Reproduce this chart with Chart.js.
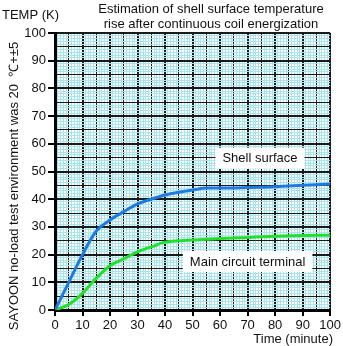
<!DOCTYPE html>
<html>
<head>
<meta charset="utf-8">
<script src="https://cdn.jsdelivr.net/npm/chart.js@4"></script>
<style>
  html, body { margin: 0; padding: 0; background: #fff; }
  #wrap { width: 343px; height: 346px; }
</style>
</head>
<body>
<div id="wrap"><canvas id="grafico"></canvas></div>
<script>
// Datos (minutos / K)
const tiempos = [0, 5, 10, 15, 20, 25, 30, 35, 40, 45, 50, 55, 60, 70, 80, 90, 100];
const superficie = [0, 10, 20, 28.5, 32.5, 35.5, 38.3, 40, 41.5, 42.5, 43.3, 44, 44, 44.2, 44.5, 45, 45.5];
const terminal = [0, 2, 6, 11.5, 16, 18.5, 21, 22.8, 24.5, 25, 25.3, 25.5, 25.8, 26.2, 26.6, 26.9, 27];

const titulo = ['Estimation of shell surface temperature', 'rise after continuous coil energization'];
const tituloY = 'SAYOON no-load test environment was 20  \u2103+\u00b15';
const tituloX = 'Time (minute)';
const unidadY = 'TEMP (K)';
const etiquetas = [
    { texto: 'Shell surface', x: 74.5, y: 55 },
    { texto: 'Main circuit terminal', x: 70, y: 17.7 }
];

const FUENTE = "'Liberation Sans', Arial, sans-serif";

function puntos(serie) {
    return tiempos.map((t, i) => ({ x: t, y: serie[i] }));
}

// Color de la cuadrícula según el valor
function colorLinea(ctx) {
    const v = Math.round(ctx.tick.value * 10) / 10;
    return v % 5 === 0 ? '#1a1a1a' : '#a8e4ec';
}
function anchoLinea(ctx) {
    const v = Math.round(ctx.tick.value * 10) / 10;
    return v % 10 === 0 ? 2 : 1;
}
function colorTick(ctx) {
    const v = Math.round(ctx.tick.value * 10) / 10;
    return v % 10 === 0 ? '#000' : 'rgba(0,0,0,0)';
}

// Textos y cajas
const textos = {
    id: 'textos',
    afterDatasetsDraw(chart) {
        const c = chart.ctx;
        const sx = chart.scales.x, sy = chart.scales.y;
        c.save();
        c.fillStyle = '#111';
        c.font = '13px ' + FUENTE;
        c.textBaseline = 'middle';

        // etiquetas con fondo blanco
        c.textAlign = 'center';
        etiquetas.forEach(e => {
            const px = sx.getPixelForValue(e.x);
            const py = sy.getPixelForValue(e.y);
            const w = c.measureText(e.texto).width + 14;
            c.fillStyle = '#fff';
            c.fillRect(px - w / 2, py - 10, w, 21);
            c.fillStyle = '#111';
            c.fillText(e.texto, px, py + 1);
        });

        // título
        c.fillText(titulo[0], 211, 9);
        c.fillText(titulo[1], 211, 24);

        c.textAlign = 'left';
        c.fillText(unidadY, 2, 15);

        c.textAlign = 'right';
        c.fillText(tituloX, 333, 339);

        // título vertical
        c.translate(14, 186);
        c.rotate(-Math.PI / 2);
        c.textAlign = 'center';
        c.fillText(tituloY, 0, 0);
        c.restore();
    }
};

const ctx = document.getElementById('grafico').getContext('2d');
const grafico = new Chart(ctx, {
    type: 'line',
    data: {
        datasets: [
            {
                label: 'Shell surface',
                data: puntos(superficie),
                borderColor: '#1e7ae0',
                borderWidth: 3,
                pointRadius: 0,
                cubicInterpolationMode: 'monotone'
            },
            {
                label: 'Main circuit terminal',
                data: puntos(terminal),
                borderColor: '#22e02a',
                borderWidth: 3,
                pointRadius: 0,
                cubicInterpolationMode: 'monotone'
            }
        ]
    },
    options: {
        responsive: true,
        maintainAspectRatio: false,
        animation: false,
        layout: { padding: { top: 33, right: 10, left: 0, bottom: 0 } },
        plugins: {
            legend: { display: false },
            tooltip: { enabled: false }
        },
        scales: {
            x: {
                type: 'linear',
                min: 0,
                max: 100,
                afterFit: s => { s.height = 36; },
                ticks: {
                    stepSize: 1,
                    autoSkip: false,
                    maxRotation: 0,
                    padding: 2,
                    color: '#111',
                    font: { family: FUENTE, size: 13 },
                    callback: v => (v % 10 === 0 ? v : '')
                },
                grid: {
                    color: colorLinea,
                    lineWidth: anchoLinea,
                    tickColor: colorTick,
                    tickWidth: 2,
                    tickLength: 6
                },
                border: { color: '#000', width: 3 }
            },
            y: {
                min: 0,
                max: 100,
                afterFit: s => { s.width = 55; },
                ticks: {
                    stepSize: 1,
                    autoSkip: false,
                    padding: 2,
                    color: '#111',
                    font: { family: FUENTE, size: 13 },
                    callback: v => (v % 10 === 0 ? v : '')
                },
                grid: {
                    color: colorLinea,
                    lineWidth: anchoLinea,
                    tickColor: colorTick,
                    tickWidth: 2,
                    tickLength: 7
                },
                border: { color: '#000', width: 3 }
            }
        }
    },
    plugins: [textos]
});
</script>
</body>
</html>
